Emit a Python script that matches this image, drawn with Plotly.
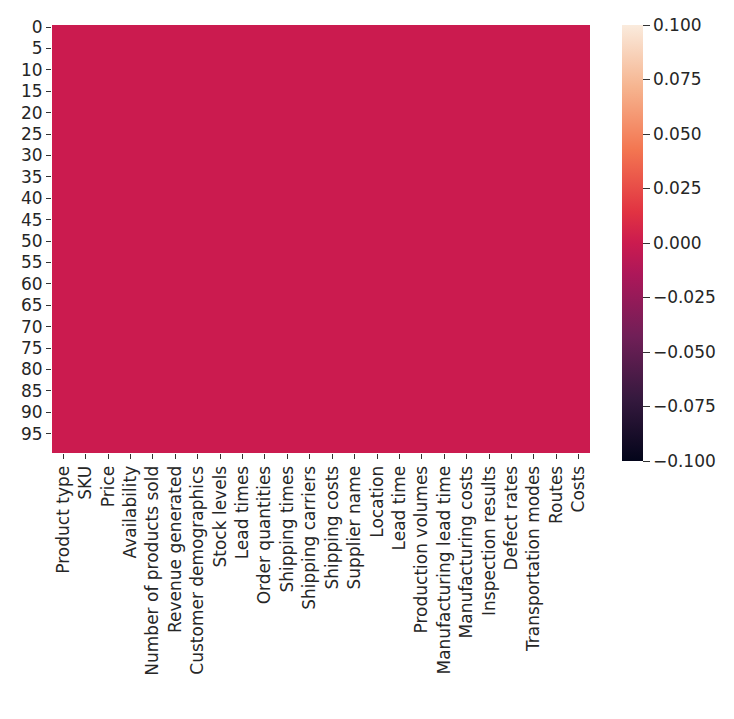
import plotly.graph_objects as go

columns = ["Product type", "SKU", "Price", "Availability", "Number of products sold",
           "Revenue generated", "Customer demographics", "Stock levels", "Lead times",
           "Order quantities", "Shipping times", "Shipping carriers", "Shipping costs",
           "Supplier name", "Location", "Lead time", "Production volumes",
           "Manufacturing lead time", "Manufacturing costs", "Inspection results",
           "Defect rates", "Transportation modes", "Routes", "Costs"]
row_index = list(range(100))
# isnull() matrix: no missing values anywhere
missing = [[0 for _ in columns] for _ in row_index]
y_tickvals = list(range(0, 100, 5))
cbar_vals = [-0.1, -0.075, -0.05, -0.025, 0.0, 0.025, 0.05, 0.075, 0.1]
cbar_text = ["\u22120.100", "\u22120.075", "\u22120.050", "\u22120.025", "0.000",
             "0.025", "0.050", "0.075", "0.100"]

rocket = [[0.0, "#03051a"], [0.1429, "#35193e"], [0.2857, "#701f57"],
          [0.4286, "#ad1759"], [0.5, "#cb1b4f"], [0.5714, "#e13342"],
          [0.7143, "#f37651"], [0.8571, "#f6b48f"], [1.0, "#faebdd"]]

W, H = 726, 711
L, R, T, B = 44, 144, 9, 266
FS = 17
tfont = dict(family="DejaVu Sans", size=FS, color="#262626")

fig = go.Figure(go.Heatmap(
    z=missing, x=list(range(len(columns))), y=row_index,
    zmin=-0.1, zmax=0.1, colorscale=rocket,
    colorbar=dict(
        x=(614 - L) / (W - L - R), xanchor="left", xref="paper", xpad=0,
        y=1, yanchor="top", ypad=0, len=436, lenmode="pixels",
        thickness=21, outlinewidth=0,
        tickvals=cbar_vals, ticktext=cbar_text,
        ticks="outside", ticklen=7, tickcolor="#333",
        tickfont=tfont,
    ),
    hoverinfo="skip",
))

fig.update_layout(
    width=W, height=H,
    margin=dict(l=L, r=R, t=T, b=B),
    paper_bgcolor="white", plot_bgcolor="white",
    font=tfont,
)
fig.update_xaxes(
    tickvals=list(range(len(columns))), ticktext=columns, tickangle=-90,
    ticks="outside", ticklen=5, tickcolor="#333", showgrid=False, zeroline=False,
    range=[-0.5, len(columns) - 0.5], showline=False,
    tickfont=tfont,
)
fig.update_yaxes(
    tickvals=y_tickvals, ticktext=[str(v) for v in y_tickvals],
    ticks="outside", ticklen=5, tickcolor="#333", showgrid=False, zeroline=False,
    range=[99.5, -0.5], showline=False,
    tickfont=tfont,
)

fig.write_html("out.html")
